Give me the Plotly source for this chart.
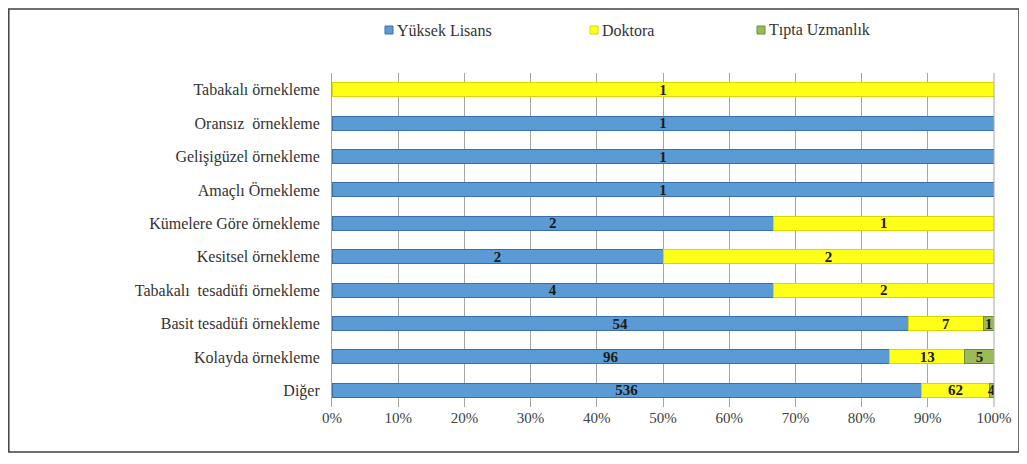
import plotly.graph_objects as go

categories = ["Tabakalı örnekleme", "Oransız  örnekleme", "Gelişigüzel örnekleme",
              "Amaçlı Örnekleme", "Kümelere Göre örnekleme", "Kesitsel örnekleme",
              "Tabakalı  tesadüfi örnekleme", "Basit tesadüfi örnekleme",
              "Kolayda örnekleme", "Diğer"]
yuksek_lisans = [0, 1, 1, 1, 2, 2, 4, 54, 96, 536]
doktora = [1, 0, 0, 0, 1, 2, 2, 7, 13, 62]
tipta_uzmanlik = [0, 0, 0, 0, 0, 0, 0, 1, 5, 4]
tick_vals = [0, 10, 20, 30, 40, 50, 60, 70, 80, 90, 100]
tick_text = ["0%", "10%", "20%", "30%", "40%", "50%", "60%", "70%", "80%", "90%", "100%"]
series_names = ["Yüksek Lisans", "Doktora", "Tıpta Uzmanlık"]

totals = [a + b + c for a, b, c in zip(yuksek_lisans, doktora, tipta_uzmanlik)]

def pct(vals):
    return [100.0 * v / t for v, t in zip(vals, totals)]

def labels(vals):
    return [str(v) if v else "" for v in vals]

colors = ["#5b9bd5", "#ffff1a", "#9bbb59"]
line_colors = ["#3a6ea8", "#d8d800", "#6f8a3a"]
values = [yuksek_lisans, doktora, tipta_uzmanlik]

FONT = "Liberation Serif, Times New Roman, serif"
W, H = 1019, 456
L, R, T, B = 324, 33, 65, 57
PW, PH = W - L - R, H - T - B

def px(x):
    return (x - L) / PW

def py(y):
    return (H - B - y) / PH

fig = go.Figure()
for name, vals, col, lc in zip(series_names, values, colors, line_colors):
    fig.add_trace(go.Bar(
        y=categories, x=pct(vals), name=name, orientation="h",
        marker=dict(color=col, line=dict(color=lc, width=1)),
        text=labels(vals), textposition="inside", insidetextanchor="middle",
        textangle=0,
        textfont=dict(family=FONT, size=15, color="#1a1a1a", weight="bold"),
        hoverinfo="skip", showlegend=False,
    ))

# custom legend (positions in page pixels, relative to figure)
leg_y = 22
leg_marker_x = [377, 582, 749]
shapes = [dict(type="rect", xref="paper", yref="paper",
               x0=px(0.8), x1=px(1011), y0=py(444), y1=py(1),
               line=dict(color="#404040", width=1.5)),
          dict(type="line", xref="paper", yref="paper", x0=1, x1=1, y0=0, y1=1,
               line=dict(color="#a6a6a6", width=1))]
annotations = []
for name, col, lc, mx in zip(series_names, colors, line_colors, leg_marker_x):
    shapes.append(dict(type="rect", xref="paper", yref="paper",
                       x0=px(mx), x1=px(mx + 8), y0=py(leg_y + 4), y1=py(leg_y - 4),
                       fillcolor=col, line=dict(color=lc, width=1)))
    annotations.append(dict(xref="paper", yref="paper", x=px(mx + 10), y=py(leg_y),
                            xanchor="left", yanchor="middle", showarrow=False,
                            text=name,
                            font=dict(family=FONT, size=16, color="#333333")))

fig.update_layout(
    template="none",
    barmode="stack", bargap=0.58,
    width=W, height=H,
    margin=dict(l=L, r=R, t=T, b=B, autoexpand=False),
    paper_bgcolor="white", plot_bgcolor="white",
    font=dict(family=FONT, size=15, color="#333333"),
    uniformtext=dict(mode="show", minsize=15),
    showlegend=False,
    xaxis=dict(range=[0, 100], tickvals=tick_vals, ticktext=tick_text,
               showgrid=True, gridcolor="#a6a6a6", gridwidth=1, zeroline=False,
               showline=False, ticks="", automargin=False,
               tickfont=dict(family=FONT, size=15, color="#404040")),
    yaxis=dict(autorange="reversed", showline=True, linecolor="#a6a6a6", ticks="",
               ticksuffix="  ", automargin=False, showgrid=False,
               tickfont=dict(family=FONT, size=16, color="#333333")),
    shapes=shapes,
    annotations=annotations,
)

fig.write_html("out.html")
